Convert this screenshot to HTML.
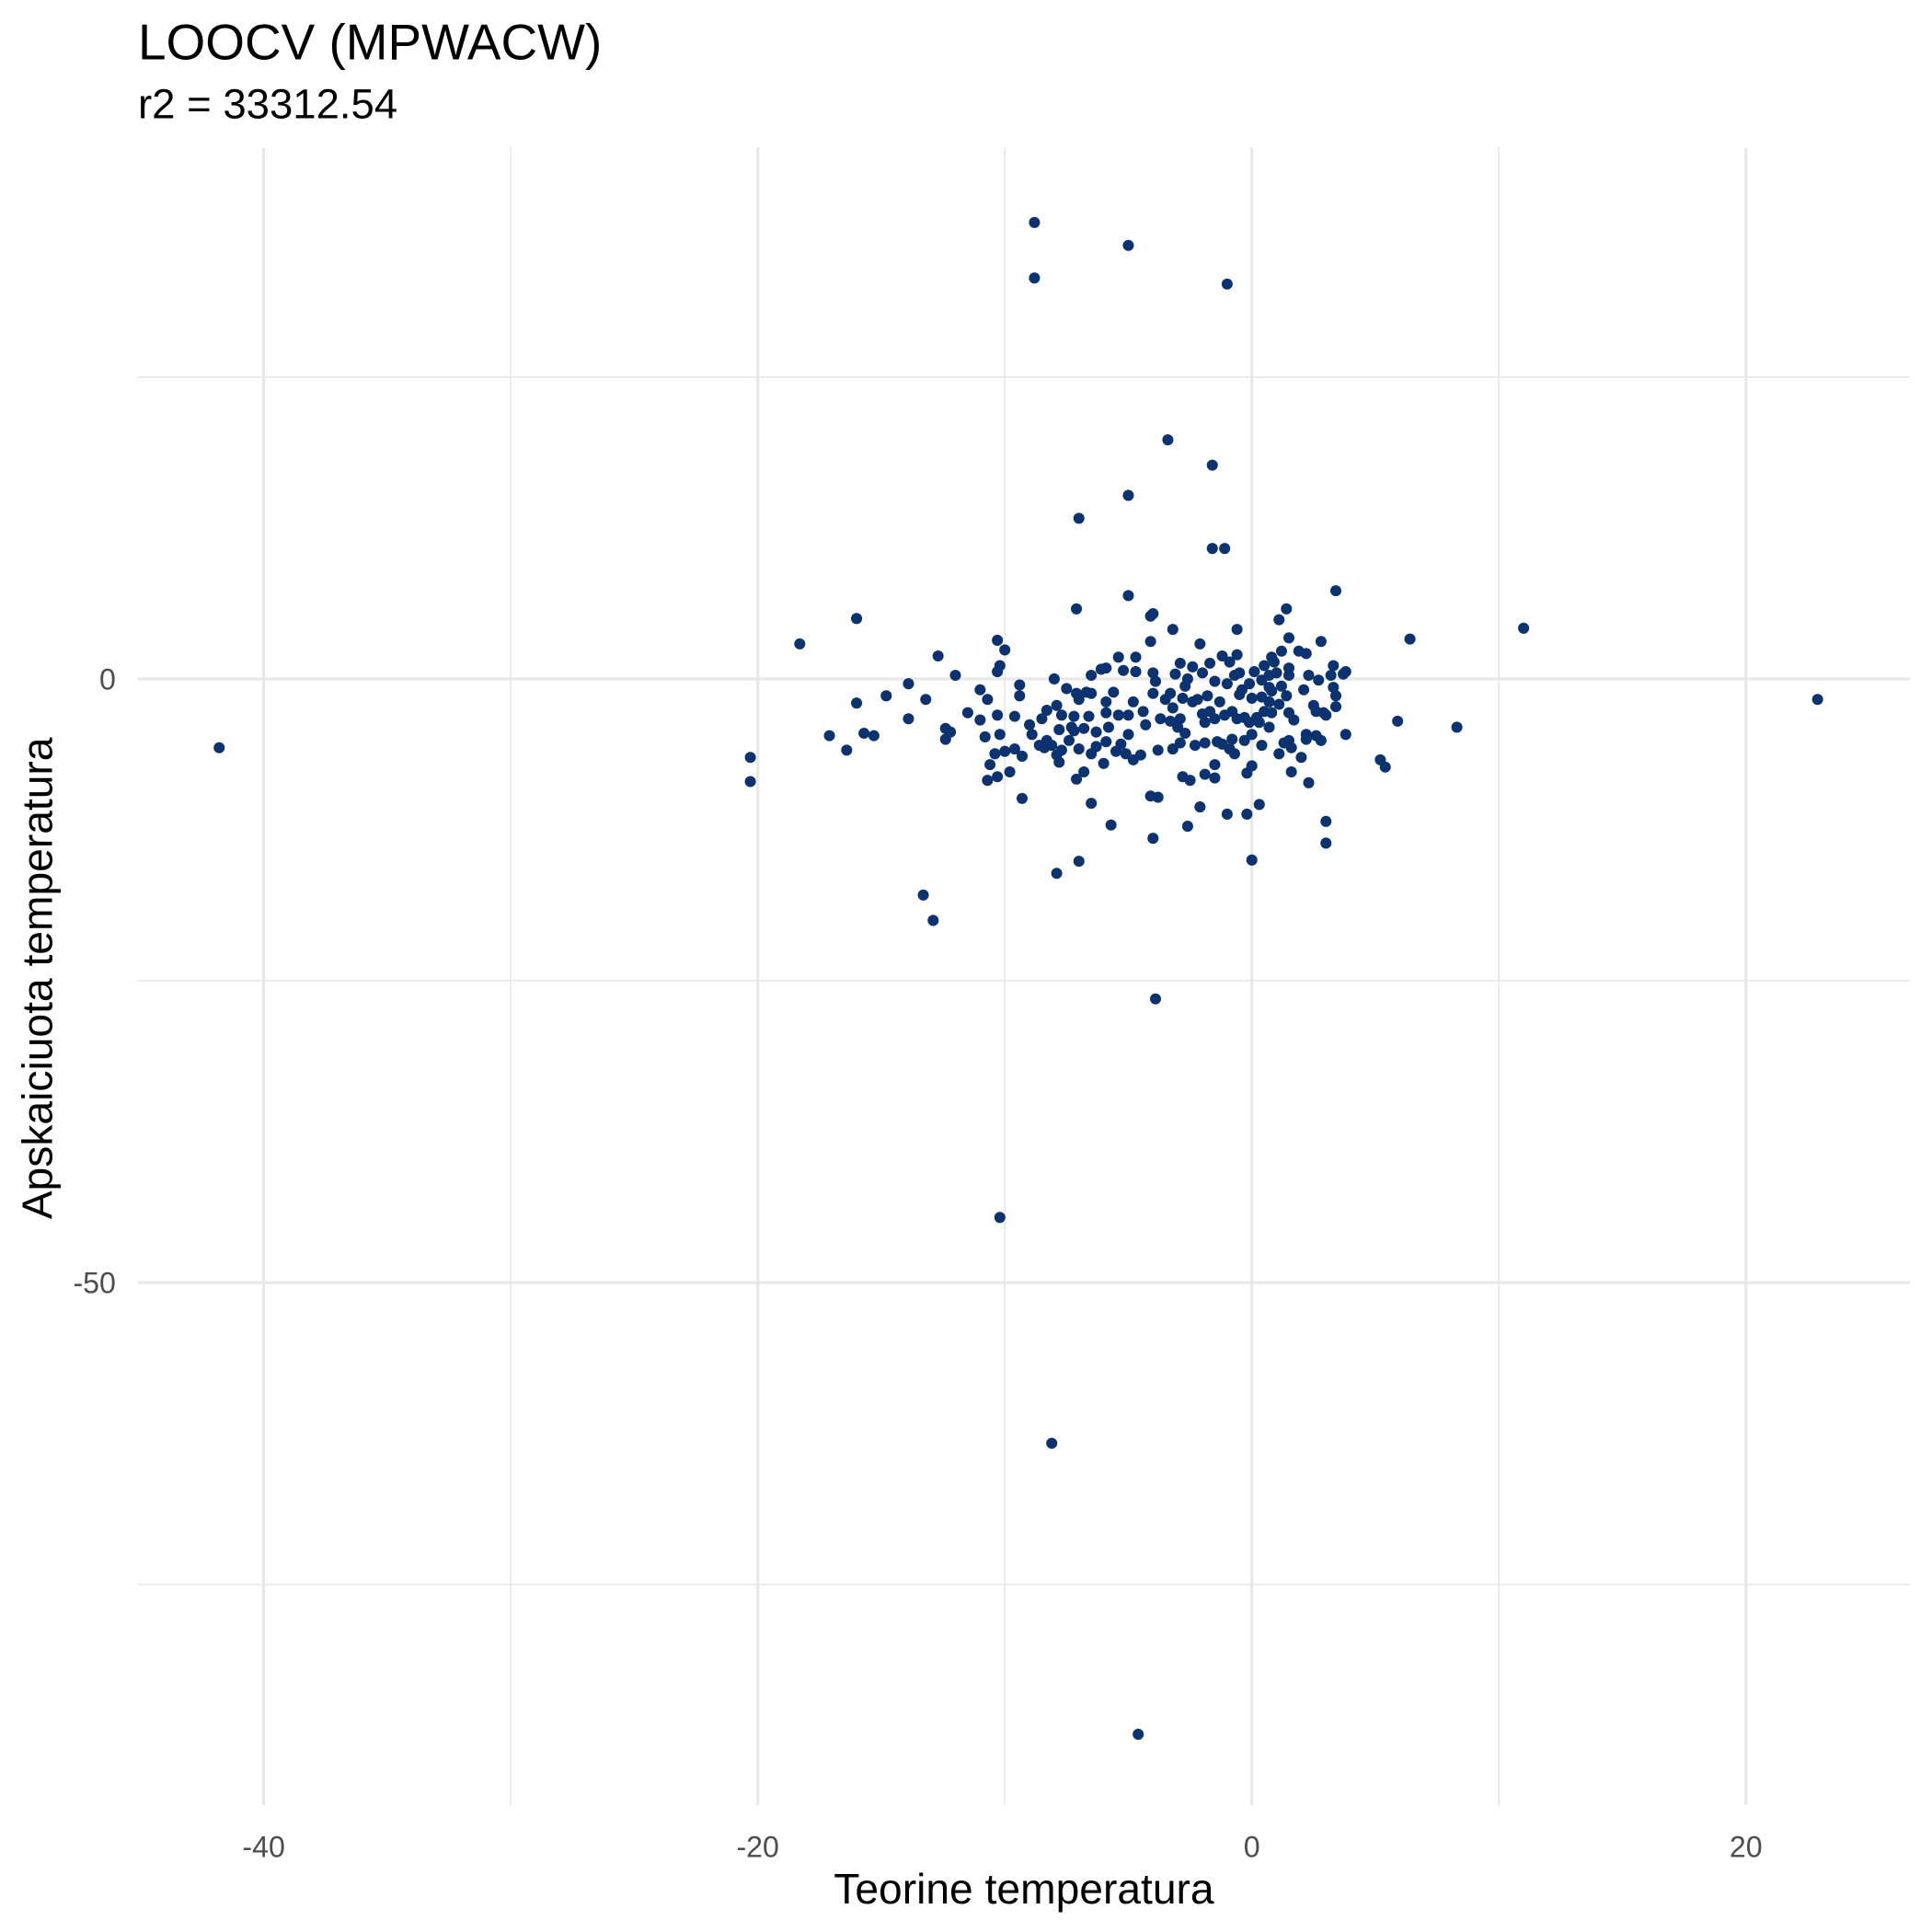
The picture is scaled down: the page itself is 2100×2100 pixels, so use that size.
<!DOCTYPE html>
<html><head><meta charset="utf-8"><style>
html,body{margin:0;padding:0;background:#fff;}
svg{display:block;font-family:"Liberation Sans",sans-serif;}
</style></head><body>
<svg id="chart" width="2100" height="2100" viewBox="0 0 1568 1568" xmlns="http://www.w3.org/2000/svg">
<text x="112" y="48" font-size="41" fill="#000">LOOCV (MPWACW)</text>
<text x="112" y="96" font-size="34" fill="#000">r2 = 33312.54</text>
<g id="grid"></g>
<g id="pts"></g>
<g id="ticks"></g>
<text x="831" y="1545" font-size="34.5" text-anchor="middle" fill="#000">Teorine temperatura</text>
<text transform="translate(42,794) rotate(-90)" font-size="34.5" text-anchor="middle" fill="#000">Apskaiciuota temperatura</text>
</svg>
<script>
const xMajor=[-40,-20,0,20];
const xMinor=[-30,-10,10];
const yMajor=[0,-50];
const yMinor=[25,-25,-75];
const xTickLabels=["-40","-20","0","20"];
const yTickLabels=["0","-50"];
const xs=[-12.7,-12.0,-13.9,-14.8,-13.2,-16.0,-13.9,-12.4,-12.2,-12.4,-15.7,-15.3,-17.1,-16.4,-11.0,-11.5,-11.0,-10.3,-10.8,-10.2,-10.0,-9.6,-10.4,-9.8,-10.6,-9.4,-9.4,-10.7,-10.3,-10.0,-10.2,-10.3,-9.6,-9.0,-8.9,-8.5,-8.3,-7.9,-8.0,-7.7,-8.1,-8.4,-8.6,-8.3,-7.9,-7.8,-7.7,-7.4,-7.2,-6.8,-7.2,-6.6,-7.0,-7.5,-7.1,-6.7,-6.5,-6.5,-6.1,-5.9,-5.4,-5.2,-4.7,-4.1,-3.2,-2.1,-0.6,-4.7,-4.0,-3.9,-4.0,-3.3,-2.8,-2.4,-2.7,-2.6,-2.9,-2.4,-1.7,-1.2,-0.9,-0.6,-1.0,-1.3,-1.7,-1.9,-2.0,-1.5,-1.1,-0.8,-0.6,-0.3,-0.1,0.2,0.5,0.8,1.1,1.5,1.7,1.5,1.6,2.2,2.6,2.8,2.5,2.6,2.9,3.0,3.4,3.4,3.3,3.2,3.7,3.8,3.3,2.8,2.2,1.9,1.5,1.2,1.0,0.8,0.7,0.4,0.1,-0.1,-0.4,-0.5,-0.7,-0.5,0.0,0.4,0.7,0.7,1.2,1.4,1.5,1.5,0.5,0.9,0.3,0.7,0.0,-0.3,0.4,0.0,-0.2,-0.8,-0.9,-1.2,-1.4,-1.9,-2.3,-2.9,-3.2,-2.7,-3.0,-3.3,-3.7,-4.3,-4.4,-4.8,-5.0,-5.0,-5.3,-5.1,-4.8,-4.5,-5.5,-5.9,-6.3,-6.5,-6.0,-6.8,-7.1,-3.8,-2.8,-2.5,-1.5,-1.9,-1.5,-0.7,1.1,1.3,2.0,2.2,2.7,2.3,2.1,-2.9,-5.4,-5.8,-5.9,-5.6,-5.9,-6.3,-7.3,-7.8,-7.0,-9.3,0.8,-1.5,-2.0,-1.8,-2.2,-3.2,-3.5,-3.1,
-8.8,-5.0,-8.8,-1.0,-3.4,-1.6,-5.0,-7.0,-1.6,-1.1,3.4,-5.0,-7.1,1.4,1.1,-16.0,-4.1,-4.0,11.0,6.4,-18.3,22.9,-41.8,-20.3,-20.3,-13.3,-12.9,-3.9,-10.2,-8.1,-4.6,-7.9,-7.0,0.0,3.0,3.0,-4.0,-2.6,-5.7,-6.5,-0.2,-1.0,0.3,-2.1,-4.1,-3.8,-9.3,2.3,1.6,5.2,5.4,8.3,5.9,3.8,-10.7,-10.3];
const ys=[1.9,0.3,-0.4,-1.4,-1.7,-2.0,-3.3,-4.1,-4.4,-5.0,-4.5,-4.7,-4.7,-5.9,-0.9,-2.8,-3.4,-3.0,-4.8,-4.6,-6.0,-5.8,-6.2,-7.7,-7.1,-0.5,-1.4,-1.7,3.2,2.4,1.1,0.6,-3.1,-3.8,-4.6,-3.3,-2.6,-2.2,0.0,-3.0,-5.5,-5.7,-5.5,-5.1,-6.3,-6.9,-5.9,-5.1,-4.3,-4.1,-3.1,-3.1,-1.7,-0.8,-1.2,-1.1,-1.2,0.3,0.8,0.9,1.8,0.7,1.8,3.1,4.1,2.9,4.1,0.6,0.5,-0.2,-1.2,-1.2,-1.6,-1.9,-0.6,0.0,1.3,1.0,1.3,1.9,1.4,2.0,-0.4,-1.9,-2.7,-3.6,-2.9,-3.3,-3.0,-2.7,-3.3,-3.2,-3.6,-3.2,-2.7,-2.8,-2.1,-2.8,-3.4,-5.1,-5.7,-4.6,-4.7,-5.1,-2.2,-2.7,-2.8,-3.0,-2.3,-1.4,-0.7,0.3,0.4,0.6,1.1,3.1,2.1,2.3,3.4,2.3,0.5,1.8,0.3,-0.1,0.6,-0.4,-0.9,-1.3,0.3,0.5,-1.6,-1.5,-1.9,-0.7,-0.6,-1.4,0.3,0.9,1.1,1.4,-3.6,-4.0,-4.6,-5.1,-5.5,-7.2,-7.8,-5.0,-5.8,-5.4,-5.2,-5.3,-5.5,-5.3,-5.8,-4.5,-4.0,-3.5,-3.3,-3.8,-2.7,-1.9,-3.0,-4.6,-5.4,-6.2,-6.7,-6.3,-6.0,-5.2,-5.6,-6.2,-7.0,-7.7,-8.3,-5.9,-8.1,-8.4,-8.2,-7.9,-7.1,-6.2,-6.2,-5.3,-6.5,-5.0,-0.1,0.3,-0.9,-3.3,-3.0,-4.0,-1.9,-1.1,-2.8,-4.4,-4.0,-4.2,-5.8,-6.4,-1.0,-0.2,0.5,-1.4,-1.7,-2.4,-1.7,0.4,
37.8,35.9,33.2,32.7,19.8,17.7,15.2,13.3,10.8,10.8,7.3,6.9,5.8,5.8,4.9,5.0,5.2,5.4,4.2,3.3,2.9,-1.7,-5.7,-6.5,-8.5,-17.9,-20.0,-26.5,-44.6,-63.3,-87.4,-16.1,-15.1,-15.0,-13.6,-11.8,-13.2,-12.2,-12.1,-10.3,-11.2,-11.2,-10.4,-10.6,-9.7,-9.8,-9.9,-8.6,-7.7,-6.7,-7.3,-4.0,-3.5,-4.6,-8.4,-8.1];
const X0=1016,XS=20.05,Y0=551,YS=9.8,L=112,R=1550,T=120,B=1465;
const sx=v=>X0+v*XS, sy=v=>Y0-v*YS;
const NS="http://www.w3.org/2000/svg";
const grid=document.getElementById('grid'),pts=document.getElementById('pts'),ticks=document.getElementById('ticks');
function line(x1,y1,x2,y2,w,name){const l=document.createElementNS(NS,'line');
l.setAttribute('x1',x1);l.setAttribute('y1',y1);l.setAttribute('x2',x2);l.setAttribute('y2',y2);
l.setAttribute('stroke','#e8e8e8');l.setAttribute('stroke-width',w);


grid.appendChild(l);}
xMinor.forEach(v=>line(sx(v),T,sx(v),B,1.2,'x-minor-gridline'));
yMinor.forEach(v=>line(L,sy(v),R,sy(v),1.2,'y-minor-gridline'));
xMajor.forEach(v=>line(sx(v),T,sx(v),B,2.4,'x-major-gridline'));
yMajor.forEach(v=>line(L,sy(v),R,sy(v),2.4,'y-major-gridline'));
function txt(x,y,s,anchor,name){const t=document.createElementNS(NS,'text');
t.setAttribute('x',x);t.setAttribute('y',y);t.setAttribute('font-size','24');t.setAttribute('fill','#4d4d4d');t.setAttribute('text-anchor',anchor);t.textContent=s;


ticks.appendChild(t);}
xMajor.forEach((v,i)=>txt(sx(v),1507,xTickLabels[i],'middle','x-tick-label'));
yMajor.forEach((v,i)=>txt(94,sy(v)+8.5,yTickLabels[i],'end','y-tick-label'));
xs.forEach((v,i)=>{const c=document.createElementNS(NS,'circle');
c.setAttribute('cx',sx(v));c.setAttribute('cy',sy(ys[i]));c.setAttribute('r',4.5);c.setAttribute('fill','#0c3370');


pts.appendChild(c);});
</script>
</body></html>
